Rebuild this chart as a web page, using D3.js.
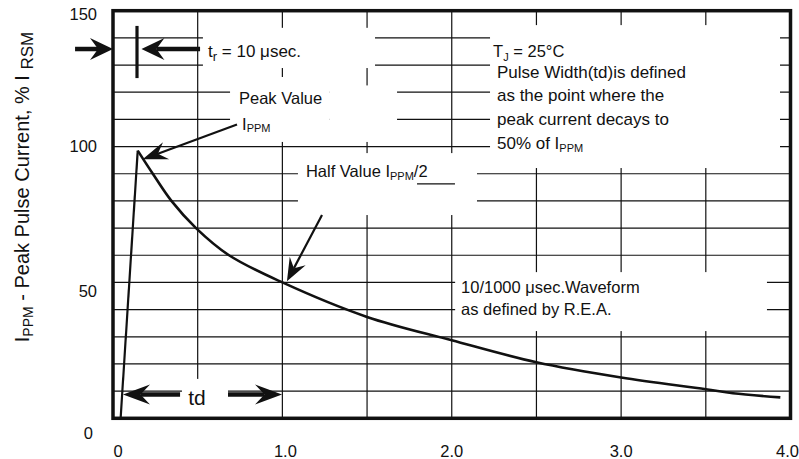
<!DOCTYPE html>
<html>
<head>
<meta charset="utf-8">
<script src="https://cdn.jsdelivr.net/npm/d3@7"></script>
<style>
  html, body { margin: 0; padding: 0; background: #fff; }
  svg { display: block; }
  text { font-family: "Liberation Sans", Arial, sans-serif; fill: #111; }
</style>
</head>
<body>
<svg id="chart" width="799" height="459"></svg>
<script>
// ---------- data ----------
const timeMs = [0.045, 0.146, 0.235, 0.345, 0.49, 0.685, 1.0, 1.5, 2.0, 2.5, 3.0, 3.5, 3.66, 3.94];
const currentPct = [0, 98.5, 90, 80, 70, 60, 50, 37.3, 28.7, 20.6, 15, 10.7, 9.2, 7.7];
const peakIndex = 1;
const xTickValues = [0, 1, 2, 3, 4];
const xTickLabels = ["0", "1.0", "2.0", "3.0", "4.0"];
const yTickValues = [0, 50, 100, 150];
const yTickLabels = ["0", "50", "100", "150"];
const tjLines = ["Pulse Width(td)is defined", "as the point where the", "peak current decays to"];

// ---------- scales ----------
const svg = d3.select("#chart");
const x = d3.scaleLinear().domain([0, 4]).range([113, 790.5]);
const y = d3.scaleLinear().domain([0, 150]).range([418.3, 10.7]);
const FS = 16.5;

// ---------- grid ----------
const grid = svg.append("g").attr("stroke", "#111").attr("stroke-width", 1.2);
grid.selectAll("line.v").data(d3.range(0.5, 4, 0.5)).join("line")
  .attr("x1", d => x(d)).attr("x2", d => x(d))
  .attr("y1", y(150)).attr("y2", y(0));
grid.selectAll("line.h").data(d3.range(10, 150, 10)).join("line")
  .attr("x1", x(0)).attr("x2", x(4))
  .attr("y1", d => y(d)).attr("y2", d => y(d));

// ---------- white label boxes (data units: t0,t1,v0,v1) ----------
const boxes = [
  [0.531, 1.547, 128.9, 143.7],  // tr label
  [0.691, 1.28, 101.7, 125.6],   // peak value label
  [1.28, 1.677, 101.7, 122.5],
  [2.226, 3.938, 92.1, 144.7],   // Tj note
  [1.092, 2.149, 74.8, 97.6],    // half value
  [2.02, 3.861, 32.1, 53.8],     // waveform note
  [0.407, 0.679, 0, 14.5]        // td
];
svg.append("g").selectAll("rect").data(boxes).join("rect")
  .attr("x", d => x(d[0])).attr("width", d => x(d[1]) - x(d[0]))
  .attr("y", d => y(d[3])).attr("height", d => y(d[2]) - y(d[3]))
  .attr("fill", "#fff");

// ---------- frame ----------
svg.append("rect")
  .attr("x", x(0)).attr("y", y(150))
  .attr("width", x(4) - x(0)).attr("height", y(0) - y(150))
  .attr("fill", "none").attr("stroke", "#111").attr("stroke-width", 3.5);

// ---------- curve ----------
const pts = timeMs.map((t, i) => [t, currentPct[i]]);
const lin = d3.line().x(d => x(d[0])).y(d => y(d[1]));
const smooth = d3.line().x(d => x(d[0])).y(d => y(d[1])).curve(d3.curveCatmullRom.alpha(0.5));
svg.append("path").attr("d", lin(pts.slice(0, peakIndex + 1)))
  .attr("fill", "none").attr("stroke", "#111").attr("stroke-width", 2.2);
svg.append("path").attr("d", smooth(pts.slice(peakIndex)))
  .attr("fill", "none").attr("stroke", "#111").attr("stroke-width", 2.6)
  .attr("stroke-linejoin", "round");

// ---------- arrows ----------
function arrow(t1, v1, t2, v2, shaftW, headLen, headHalf) {
  const x1 = x(t1), y1 = y(v1), x2 = x(t2), y2 = y(v2);
  const dx = x2 - x1, dy = y2 - y1, L = Math.hypot(dx, dy);
  const ux = dx / L, uy = dy / L, nx = -uy, ny = ux;
  const bx = x2 - ux * headLen, by = y2 - uy * headLen;
  const mx = x2 - ux * headLen * 0.65, my = y2 - uy * headLen * 0.65;
  svg.append("line").attr("x1", x1).attr("y1", y1).attr("x2", mx).attr("y2", my)
    .attr("stroke", "#111").attr("stroke-width", shaftW);
  svg.append("path")
    .attr("d", `M${x2},${y2}L${bx + nx * headHalf},${by + ny * headHalf}L${mx},${my}L${bx - nx * headHalf},${by - ny * headHalf}Z`)
    .attr("fill", "#111");
}
// tr arrows
arrow(-0.224, 135.9, 0, 135.9, 4.5, 23, 11);
arrow(0.514, 135.9, 0.168, 135.9, 4.5, 23, 11);
svg.append("line").attr("x1", x(0.1417)).attr("x2", x(0.1417))
  .attr("y1", y(144.4)).attr("y2", y(125.2))
  .attr("stroke", "#111").attr("stroke-width", 3.2);
// td arrows
arrow(0.396, 8.76, 0.059, 8.76, 4.5, 27, 10);
arrow(0.679, 8.76, 0.998, 8.76, 4.5, 27, 10);
// peak arrow
arrow(0.732, 108.1, 0.175, 95.3, 2.2, 25, 9);
// half value arrow
arrow(1.234, 74.8, 1.027, 50.4, 2.2, 23, 9);
// stray underline
svg.append("line").attr("x1", x(1.795)).attr("x2", x(2.019))
  .attr("y1", y(86.3)).attr("y2", y(86.3)).attr("stroke", "#111").attr("stroke-width", 1.2);

// ---------- texts ----------
function label(t, v, parts, size, anchor) {
  const tx = svg.append("text").attr("x", x(t)).attr("y", y(v))
    .attr("font-size", size || FS).attr("text-anchor", anchor || "start");
  parts.forEach(p => {
    const s = tx.append("tspan").text(p.s);
    if (p.sub) s.attr("font-size", p.fs || 11).attr("dy", p.dy || 4);
    if (p.back) s.attr("dy", -(p.back));
  });
  return tx;
}
label(0.561, 133.0, [{s: "t"}, {s: "r", sub: true, fs: 13, dy: 4}, {s: " = 10 \u03BCsec.", back: 4}], 17);
label(0.744, 115.7, [{s: "Peak Value"}]);
label(0.762, 106.1, [{s: "I"}, {s: "PPM", sub: true, dy: 2}]);
label(2.244, 133.0, [{s: "T"}, {s: "J", sub: true, dy: 4}, {s: " = 25\u00B0C", back: 4}], 16.5);
tjLines.forEach((s, i) => label(2.267, [125.2, 116.8, 107.9][i], [{s}], 17));
label(2.267, 99.1, [{s: "50% of I"}, {s: "PPM", sub: true, dy: 3}], 17);
label(1.139, 88.8, [{s: "Half Value I"}, {s: "PPM", sub: true, dy: 3}, {s: "/2", back: 3}]);
label(2.055, 46.1, [{s: "10/1000 \u03BCsec.Waveform"}]);
label(2.055, 38.0, [{s: "as defined by R.E.A."}]);
label(0.496, 4.9, [{s: "td"}], 21, "middle");

// ---------- tick labels ----------
const yOffsets = [20.7, 14.5, 5.4, 9.3];
svg.append("g").selectAll("text").data(yTickValues).join("text")
  .attr("x", (d, i) => i === 0 ? 93 : 97).attr("y", (d, i) => y(d) + yOffsets[i])
  .attr("text-anchor", "end").attr("font-size", FS)
  .text((d, i) => yTickLabels[i]);
svg.append("g").selectAll("text").data(xTickValues).join("text")
  .attr("x", (d, i) => x(d) + (i === 0 ? 5 : i === 1 ? 3 : i === 4 ? -3 : 0))
  .attr("y", 457).attr("text-anchor", "middle").attr("font-size", FS)
  .text((d, i) => xTickLabels[i]);

// ---------- y title ----------
const yt = svg.append("text").attr("transform", "translate(29,187) rotate(-90)")
  .attr("text-anchor", "middle").attr("font-size", 20);
yt.append("tspan").text("I");
yt.append("tspan").attr("font-size", 14).attr("dy", 4).text("PPM");
yt.append("tspan").attr("dy", -4).text(" - Peak Pulse Current, % I ");
yt.append("tspan").attr("font-size", 17).attr("dy", 4).text("RSM");
</script>
</body>
</html>
